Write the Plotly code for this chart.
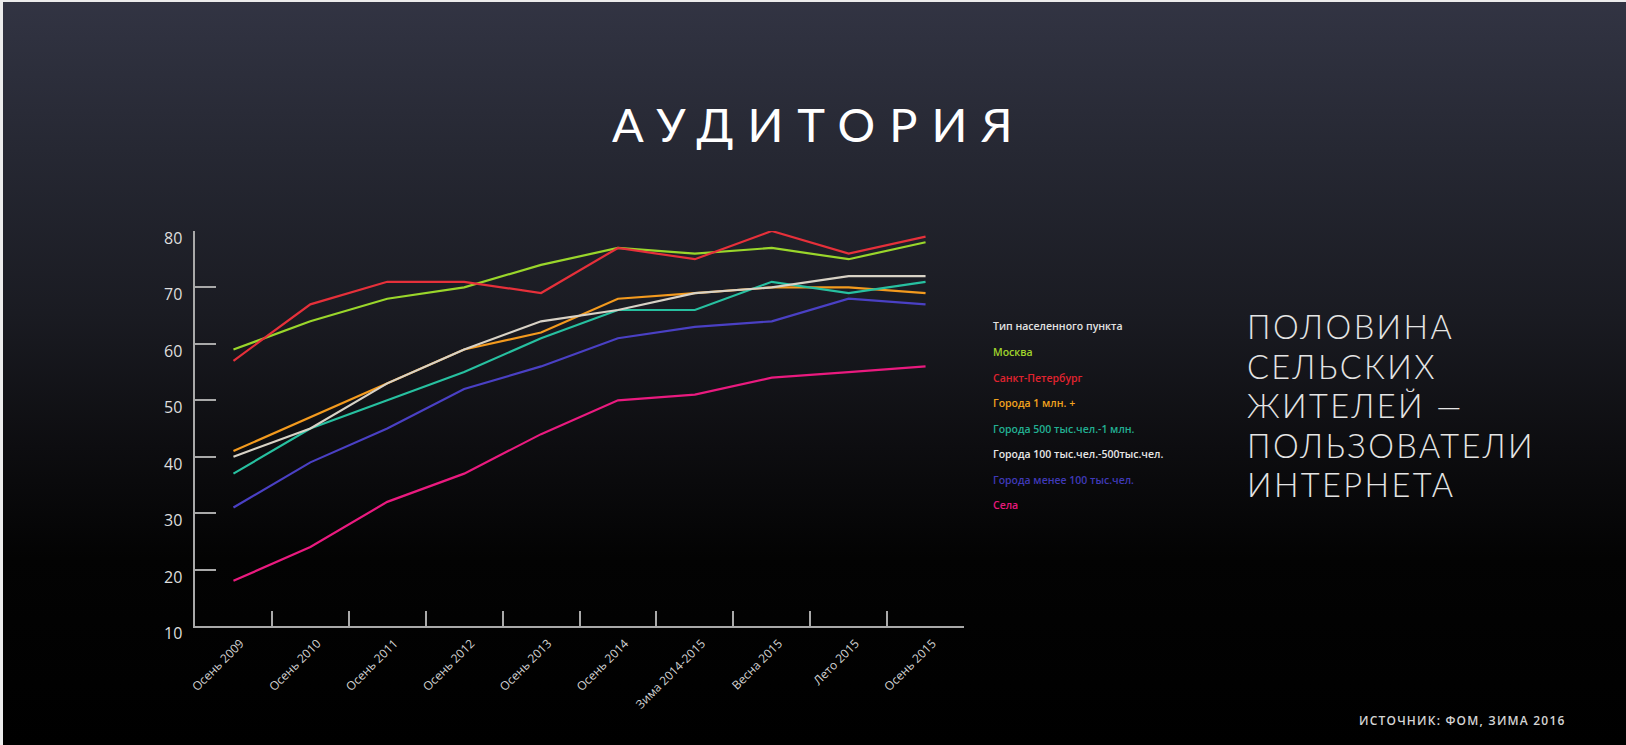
import base64
import plotly.graph_objects as go

# ---------------- data ----------------
periods = ["Осень 2009", "Осень 2010", "Осень 2011", "Осень 2012", "Осень 2013",
           "Осень 2014", "Зима 2014-2015", "Весна 2015", "Лето 2015", "Осень 2015"]

moscow = [59, 64, 68, 70, 74, 77, 76, 77, 75, 78]
spb = [57, 67, 71, 71, 69, 77, 75, 80, 76, 79]
cities_1m = [41, 47, 53, 59, 62, 68, 69, 70, 70, 69]
cities_500k = [37, 45, 50, 55, 61, 66, 66, 71, 69, 71]
cities_100k = [40, 45, 53, 59, 64, 66, 69, 70, 72, 72]
cities_small = [31, 39, 45, 52, 56, 61, 63, 64, 68, 67]
villages = [18, 24, 32, 37, 44, 50, 51, 54, 55, 56]

series_names = ["Москва", "Санкт-Петербург", "Города 1 млн. +",
                "Города 500 тыс.чел.-1 млн.", "Города 100 тыс.чел.-500тыс.чел.",
                "Города менее 100 тыс.чел.", "Села"]
series_values = [moscow, spb, cities_1m, cities_500k, cities_100k, cities_small, villages]
legend_title = "Тип населенного пункта"

y_ticks = [10, 20, 30, 40, 50, 60, 70, 80]

title_text = "АУДИТОРИЯ"
side_lines = ["ПОЛОВИНА", "СЕЛЬСКИХ", "ЖИТЕЛЕЙ —", "ПОЛЬЗОВАТЕЛИ", "ИНТЕРНЕТА"]
source_text = "ИСТОЧНИК: ФОМ, ЗИМА 2016"

# ---------------- styles ----------------
line_colors = ["#9ad62b", "#e6303a", "#f39a1e", "#27c0a0", "#d8d2c6", "#4a40c4", "#ea1a7f"]
legend_colors = ["#a0d42c", "#e0232f", "#f2a21e", "#22b092", "#e6e6e6", "#3f39b8", "#e8197d"]

W, H = 1626, 745
ML, MR, MT, MB = 195, 662, 231, 119
PW, PH = W - ML - MR, H - MT - MB


def px(x):
    return (x - ML) / PW


def py(y):
    return 1 - (y - MT) / PH


# gradient background as SVG
svg = f"""<svg xmlns='http://www.w3.org/2000/svg' width='{W}' height='{H}' viewBox='0 0 {W} {H}' preserveAspectRatio='none'>
<defs><linearGradient id='g' x1='0' y1='0' x2='0' y2='1'>
<stop offset='0' stop-color='#323443'/>
<stop offset='0.2' stop-color='#262833'/>
<stop offset='0.42' stop-color='#1a1b22'/>
<stop offset='0.6' stop-color='#0d0d10'/>
<stop offset='0.75' stop-color='#030303'/>
<stop offset='1' stop-color='#000000'/>
</linearGradient></defs>
<rect x='0' y='0' width='{W}' height='{H}' fill='url(#g)'/>
<rect x='0' y='0' width='{W}' height='2' fill='#ececec'/>
<rect x='0' y='0' width='3' height='{H}' fill='#ececec'/>
</svg>"""
bg_uri = "data:image/svg+xml;base64," + base64.b64encode(svg.encode("utf-8")).decode()

fig = go.Figure()
for name, vals, col in zip(series_names, series_values, line_colors):
    fig.add_trace(go.Scatter(x=periods, y=vals, mode="lines", name=name,
                             line=dict(color=col, width=2.2), showlegend=False))

axis_col = "#a9a9a9"
fig.update_xaxes(type="category", range=[-0.5, len(periods) - 0.5],
                 tickson="boundaries", ticks="inside", ticklen=15, tickwidth=1.5,
                 tickcolor=axis_col, showline=True, linecolor=axis_col, linewidth=1.5,
                 tickangle=-45, ticklabelshift=7, ticklabelstandoff=4,
                 tickfont=dict(family="Open Sans", size=12, color="#d2d2d2"),
                 showgrid=False, zeroline=False, fixedrange=True)
fig.update_yaxes(range=[10, 80], tickvals=y_ticks, ticks="inside", ticklen=21,
                 tickwidth=1.5, tickcolor=axis_col, showline=True, linecolor=axis_col,
                 linewidth=1.5, showticklabels=False,
                 showgrid=False, zeroline=False, fixedrange=True)

annotations = []
# y tick labels (set slightly below their ticks, as in the original design)
for v in y_ticks:
    annotations.append(dict(x=px(184), y=v, xref="paper", yref="y", yshift=-7,
                            text=str(v), showarrow=False, xanchor="right", yanchor="middle",
                            font=dict(family="Open Sans", size=16, color="#dedede")))
# title
annotations.append(dict(x=px(819), y=py(124), xref="paper", yref="paper",
                        text=f"<span style='letter-spacing:14px'>{title_text}</span>",
                        showarrow=False, xanchor="center", yanchor="middle",
                        font=dict(family="Lato", size=47, color="#ffffff")))
# legend
leg_y = [326, 352, 377.5, 403, 428.5, 454, 479.5, 505]
annotations.append(dict(x=px(991), y=py(leg_y[0]), xref="paper", yref="paper",
                        text=legend_title, showarrow=False, xanchor="left", yanchor="middle",
                        font=dict(family="Open Sans", size=10.5, color="#e2e2e2", weight=600)))
for name, col, yy in zip(series_names, legend_colors, leg_y[1:]):
    annotations.append(dict(x=px(991), y=py(yy), xref="paper", yref="paper",
                            text=name, showarrow=False, xanchor="left", yanchor="middle",
                            font=dict(family="Open Sans", size=10.5, color=col, weight=600)))
# side text: one block; base size sets the tight ~39.5px leading
side_text = "<br>".join(
    f"<span style='font-size:32.5px;letter-spacing:2.4px'>{t}</span>" for t in side_lines)
annotations.append(dict(x=px(1245), y=py(405), xref="paper", yref="paper",
                        text=side_text, align="left",
                        showarrow=False, xanchor="left", yanchor="middle",
                        font=dict(family="Lato", size=30.4, color="#e4e4e4", weight=300)))
# source
annotations.append(dict(x=px(1357), y=py(720.5), xref="paper", yref="paper",
                        text=f"<span style='letter-spacing:1.2px'>{source_text}</span>",
                        showarrow=False, xanchor="left", yanchor="middle",
                        font=dict(family="Open Sans", size=12, color="#d4d4d4", weight=600)))

fig.update_layout(
    width=W, height=H,
    margin=dict(l=ML, r=MR, t=MT, b=MB, pad=0),
    paper_bgcolor="#000000", plot_bgcolor="rgba(0,0,0,0)",
    showlegend=False,
    annotations=annotations,
    images=[dict(source=bg_uri, xref="paper", yref="paper",
                 x=px(0), y=py(0), sizex=W / PW, sizey=H / PH,
                 sizing="stretch", xanchor="left", yanchor="top", layer="below")],
)

fig.write_html("out.html", config={"displayModeBar": False},
               post_script="document.body.style.margin='0';document.body.style.overflow='hidden';")
